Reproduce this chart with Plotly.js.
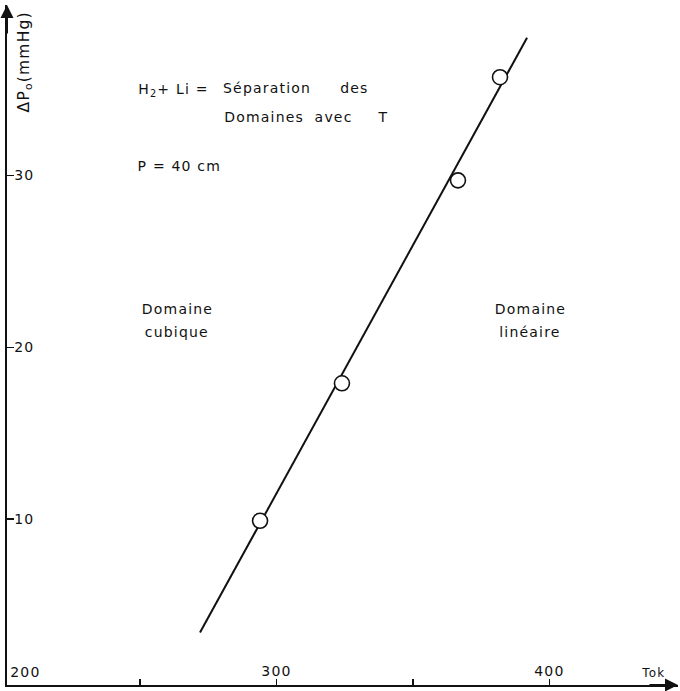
<!DOCTYPE html>
<html><head><meta charset="utf-8">
<script src="https://cdn.plot.ly/plotly-3.0.1.min.js"></script>
<style>html,body{margin:0;padding:0;background:#fff}#chart{width:680px;height:691px}
#chart text{letter-spacing:1.2px}</style>
</head><body><div id="chart"></div>
<script>
// Measured points (T in K, ΔP0 in mmHg)
const tempK = [294.0, 324.0, 366.5, 381.9];
const deltaP = [9.9, 17.9, 29.7, 35.7];
// Straight line drawn through the points (its two ends)
const lineT = [272.0, 391.8];
const lineP = [3.4, 38.0];
// Tick values / labels
const xTickVals = [250, 300, 350, 400];
const xTickText = ["", "300", "", "400"];
const yTickVals = [10, 20, 30];
const yTickText = ["10", "20", "30"];

const F = "DejaVu Sans, Liberation Sans, sans-serif";
const font = {family: F, size: 14, color: "#111"};

const traces = [
  {x: lineT, y: lineP, mode: "lines", line: {color: "#111", width: 2}, hoverinfo: "skip", showlegend: false},
  {x: tempK, y: deltaP, mode: "markers", showlegend: false,
   marker: {symbol: "circle", size: 15, color: "#fff", line: {color: "#111", width: 1.6}}}
];

function note(text, px, py, anchor) {
  return {xref: "paper", yref: "paper", x: 0, y: 1, xanchor: anchor || "left", yanchor: "middle",
          xshift: px - 7, yshift: -(py - 5), showarrow: false, font: font, align: "center", text: text};
}

const layout = {
  width: 680, height: 691,
  margin: {l: 7, r: 2, t: 5, b: 6},
  paper_bgcolor: "#fff", plot_bgcolor: "#fff",
  showlegend: false,
  font: font,
  xaxis: {
    range: [201.3, 447.1], showgrid: false, zeroline: false,
    showline: true, linecolor: "#111", linewidth: 2,
    tickmode: "array", tickvals: xTickVals, ticktext: xTickText,
    ticks: "inside", ticklen: 6, tickwidth: 1.2, tickcolor: "#111",
    ticklabelposition: "inside", tickfont: font, fixedrange: true
  },
  yaxis: {
    range: [0.35, 39.9], showgrid: false, zeroline: false,
    showline: true, linecolor: "#111", linewidth: 2,
    tickmode: "array", tickvals: yTickVals, ticktext: yTickText,
    ticks: "inside", ticklen: 7, tickwidth: 1.2, tickcolor: "#111",
    ticklabelposition: "inside", tickfont: font, fixedrange: true
  },
  annotations: [
    // axis arrows
    {xref: "paper", yref: "paper", x: 0, y: 1, ax: 0, ay: 30, showarrow: true,
     arrowhead: 2, arrowsize: 1.3, arrowwidth: 2, arrowcolor: "#111", text: ""},
    {xref: "paper", yref: "paper", x: 1, y: 0, ax: -30, ay: 0, showarrow: true,
     arrowhead: 2, arrowsize: 1.3, arrowwidth: 2, arrowcolor: "#111", text: ""},
    // axis labels
    {xref: "paper", yref: "paper", x: 0, y: 1, xanchor: "center", yanchor: "top",
     xshift: 18, yshift: -10, textangle: -90, showarrow: false,
     text: "ΔP<sub>o</sub>(mmHg)", font: {family: F, size: 15.5, color: "#111"}},
    {xref: "paper", yref: "paper", x: 1, y: 0, xanchor: "right", yanchor: "bottom",
     xshift: -12, yshift: 3, showarrow: false, text: "Tok", font: {family: F, size: 12, color: "#111"}},
    {xref: "paper", yref: "paper", x: 0, y: 0, xanchor: "left", yanchor: "bottom",
     xshift: 3, yshift: 3, showarrow: false, text: "200", font: font},
    // titles / notes
    note("H<sub>2</sub>+ Li =", 141, 90),
    note("Séparation", 227, 88),
    note("des", 340, 88),
    note("Domaines", 227, 117),
    note("avec", 315, 117),
    note("T", 376, 117),
    note("P = 40 cm", 141, 166),
    note("Domaine", 177, 309, "center"),
    note("cubique", 177, 332, "center"),
    note("Domaine", 530, 309, "center"),
    note("linéaire", 530, 332, "center")
  ]
};

Plotly.newPlot("chart", traces, layout, {displayModeBar: false, staticPlot: true});
</script>
</body></html>
